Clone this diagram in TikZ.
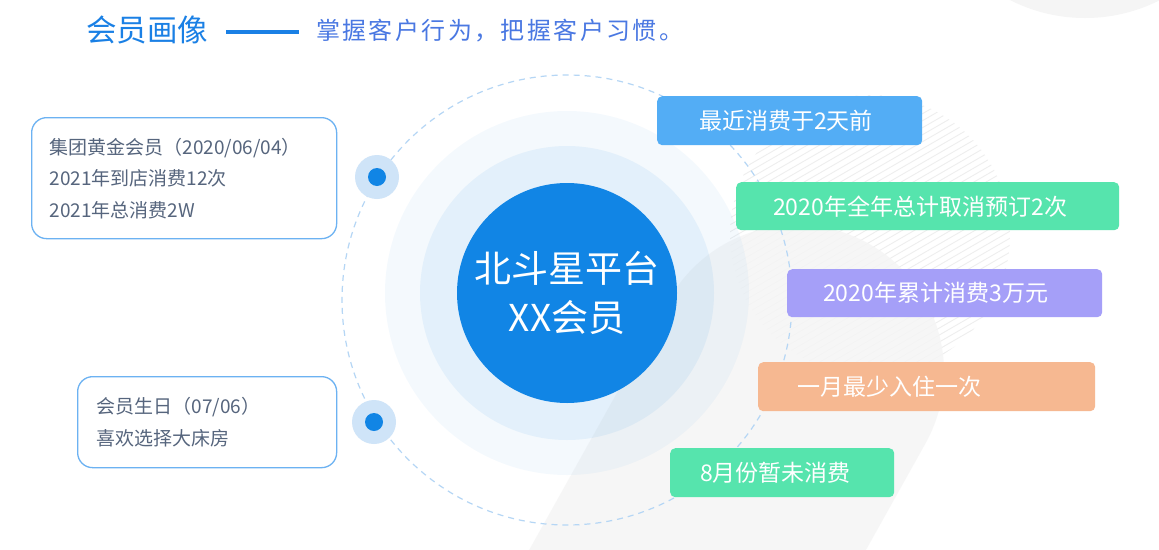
\documentclass[tikz,border=0pt]{standalone}
\usepackage{fontspec}
\setmainfont{Noto Sans CJK SC}
\definecolor{mainblue}{HTML}{1185E5}
\definecolor{titleblue}{HTML}{1A80E5}
\definecolor{subblue}{HTML}{4A78E2}
\definecolor{halo}{HTML}{CFE4F8}
\definecolor{dashblue}{HTML}{B5D6F5}
\definecolor{boxblue}{HTML}{6CB2F2}
\definecolor{infotext}{HTML}{56657D}
\definecolor{shapegray}{HTML}{F5F5F5}
\definecolor{hatchgray}{HTML}{EEEEEE}
\definecolor{tagblue}{HTML}{53ADF5}
\definecolor{taggreen}{HTML}{56E4AD}
\definecolor{tagpurple}{HTML}{A59FF8}
\definecolor{tagorange}{HTML}{F6B891}
\tikzset{
  tagbox/.style={rounded corners=5pt, text=white, font=\fontsize{23}{23}\selectfont,
    minimum height=49pt, inner ysep=0pt, anchor=north west, align=left},
  infobox/.style={draw=boxblue, line width=1.3pt, rounded corners=15pt, fill=white,
    text=infotext, anchor=north west, align=left, font=\fontsize{19}{31.5}\selectfont, inner ysep=0pt},
  dothalo/.style={circle, fill=halo, minimum size=44pt, inner sep=0pt},
  dotcore/.style={circle, fill=mainblue, minimum size=18pt, inner sep=0pt},
  ring/.style={circle, fill=mainblue, inner sep=0pt},
  hatch/.style={hatchgray, line width=0.9pt},
  dashring/.style={dashblue, line width=1.2pt, dash pattern=on 6pt off 5pt},
}
\begin{document}
\begin{tikzpicture}[x=1pt,y=-1pt]
\useasboundingbox (0,0) rectangle (1159,549);
\clip (0,0) rectangle (1159,549);
\fill[white] (0,0) rectangle (1159,549);
% background shapes
\fill[shapegray] (1085,-147) circle[radius=165];
\begin{scope}
  \clip (870,235) circle[radius=140];
  \foreach \c in {60,67,...,420} \draw[hatch] (720,{\c+86.6}) -- (1020,{\c-86.6});
\end{scope}
\draw[line width=294pt, line cap=round, shapegray, draw opacity=0.85] (797,372) -- (602,721);
% rings
\node (ring3) [ring, fill opacity=0.045, minimum size=364pt] at (567,293) {};
\node (ring2) [ring, fill opacity=0.07, minimum size=294pt] at (567,293) {};
\node (core) [ring, minimum size=220pt, text=white, align=center,
  font=\fontsize{37}{49}\selectfont] at (567,293) {北斗星平台\\XX会员};
% dashed orbit
\draw[dashring] (567,300) circle[radius=225];
% dots
\node (dot1h) [dothalo] at (377,177) {};
\node (dot1) [dotcore] at (dot1h) {};
\node (dot2h) [dothalo] at (374,422) {};
\node (dot2) [dotcore] at (dot2h) {};
% left boxes
\node (box1) [infobox, minimum width=305pt, minimum height=121pt, text width=269pt, inner xsep=18pt]
  at (31,117) {集团黄金会员（2020/06/04）\\2021年到店消费12次\\2021年总消费2W};
\node (box2) [infobox, minimum width=259pt, minimum height=91pt, text width=221pt, inner xsep=19pt]
  at (77,376) {会员生日（07/06）\\喜欢选择大床房};
% right tags
\node (tag1) [tagbox, fill=tagblue, text width=181pt, inner xsep=42pt] at (657,96) {最近消费于2天前};
\node (tag2) [tagbox, fill=taggreen, text width=309pt, inner xsep=37pt, minimum height=48pt] at (736,182) {2020年全年总计取消预订2次};
\node (tag3) [tagbox, fill=tagpurple, text width=243pt, inner xsep=36pt, minimum height=48pt] at (787,269) {2020年累计消费3万元};
\node (tag4) [tagbox, fill=tagorange, text width=259pt, inner xsep=39pt] at (758,362) {一月最少入住一次};
\node (tag5) [tagbox, fill=taggreen, text width=164pt, inner xsep=30pt] at (670,448) {8月份暂未消费};
% title
\node (title) [anchor=west, inner sep=0pt, text=titleblue, font=\fontsize{30.5}{30.5}\selectfont] at (86,30) {会员画像};
\coordinate (tl1) at (226,32);
\coordinate (tl2) at (299,32);
\draw[titleblue, line width=4pt] (tl1) -- (tl2);
\node (subtitle) [anchor=west, inner sep=0pt, text=subblue, font=\fontsize{24}{24}\selectfont\addfontfeature{LetterSpace=10}] at (316,31) {掌握客户行为，把握客户习惯。};
\end{tikzpicture}
\end{document}
